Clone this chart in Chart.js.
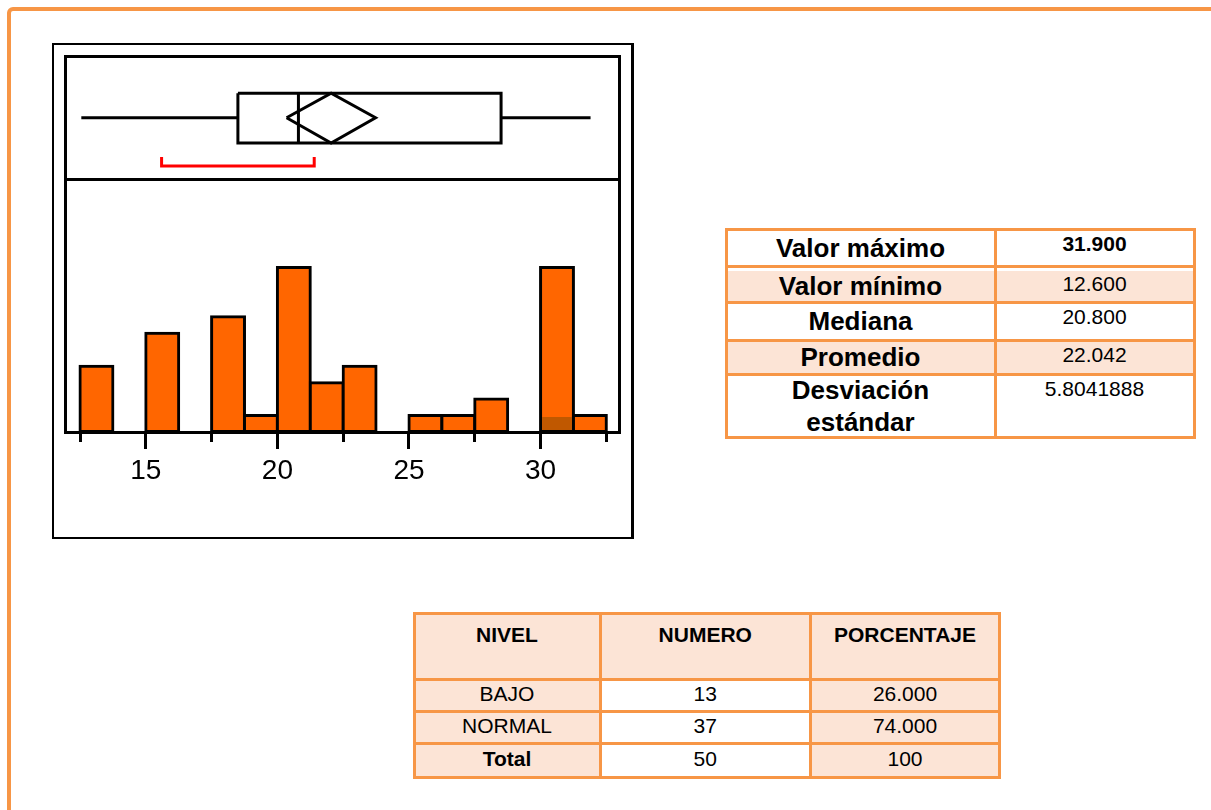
<!DOCTYPE html>
<html>
<head>
<meta charset="utf-8">
<script src="https://cdn.jsdelivr.net/npm/chart.js@4.4.1/dist/chart.umd.min.js"></script>
<style>
html,body{margin:0;padding:0;background:#fff;width:1211px;height:810px;overflow:hidden;font-family:'Liberation Sans',Arial,sans-serif;}
#page{position:absolute;left:7px;top:7px;width:1300px;height:900px;border:4px solid #f79646;border-radius:6px;box-sizing:border-box;}
#frame{position:absolute;left:52px;top:43px;width:582px;height:496px;border:2px solid #000;border-right-width:3px;box-sizing:border-box;}
#chart{position:absolute;left:52px;top:42px;}
.tbl{position:absolute;background:#f79646;}
.cell{position:absolute;box-sizing:border-box;display:flex;justify-content:center;text-align:center;color:#000;white-space:pre-line;}
</style>
</head>
<body>
<div id="page"></div>
<div id="frame"></div>
<canvas id="chart" width="584" height="500"></canvas>
<script>
// ---------- data ----------
const binLow    = [12.5, 13.75, 15, 16.25, 17.5, 18.75, 20, 21.25, 22.5, 23.75, 25, 26.25, 27.5, 28.75, 30, 31.25];
const binHigh   = [13.75, 15, 16.25, 17.5, 18.75, 20, 21.25, 22.5, 23.75, 25, 26.25, 27.5, 28.75, 30, 31.25, 32.5];
const binCounts = [4, 0, 6, 0, 7, 1, 10, 3, 4, 0, 1, 1, 2, 0, 10, 1];
const highlightCounts = [0, 0, 0, 0, 0, 0, 0, 0, 0, 0, 0, 0, 0, 0, 1, 0];
const majorTicks = [15, 20, 25, 30];
const minorTicks = [12.5, 17.5, 22.5, 27.5, 32.5];
// box plot summary: min, Q1, median, Q3, max
const boxFive = [12.55, 18.5, 20.8, 28.5, 31.9];
// mean diamond: low CI, mean, high CI
const meanDiamond = [20.35, 22.042, 23.73];
// shortest half bracket
const shortestHalf = [15.6, 21.4];

const statLabels = ['Valor máximo', 'Valor mínimo', 'Mediana', 'Promedio', 'Desviación\nestándar'];
const statValues = ['31.900', '12.600', '20.800', '22.042', '5.8041888'];
const levelHeaders = ['NIVEL', 'NUMERO', 'PORCENTAJE'];
const levelNames = ['BAJO', 'NORMAL', 'Total'];
const levelCounts = ['13', '37', '50'];
const levelPercents = ['26.000', '74.000', '100'];

// ---------- layout (not data) ----------
const L = {
  xMin: 11.93, xMax: 33.0, yCountMax: 22.83, panelMin: -2.065,
  whiskerY: 0.5, boxTop: 0.70, boxBottom: 0.294, bracketY: 0.106, bracketTip: 0.18
};
const FONT = "'Liberation Sans', Arial, sans-serif";

// ---------- chart ----------
const barData = binLow.map((lo, i) => ({x: (lo + binHigh[i]) / 2, y: binCounts[i] > 0 ? binCounts[i] : null}));
const hlData  = binLow.map((lo, i) => ({x: (lo + binHigh[i]) / 2, y: highlightCounts[i] > 0 ? highlightCounts[i] : null}));

const lineDs = (pts, color) => ({
  type: 'line', data: pts, xAxisID: 'x', yAxisID: 'yb', borderColor: color, borderWidth: 3,
  pointRadius: 0, pointHoverRadius: 0, fill: false, tension: 0, borderJoinStyle: 'miter',
  borderCapStyle: 'butt', order: 0, clip: false
});
const [mn, q1, md, q3, mx] = boxFive;
const [cl, mean, ch] = meanDiamond;
const datasets = [
  {type: 'bar', data: barData, xAxisID: 'x', yAxisID: 'y', backgroundColor: '#ff6600', borderColor: '#000',
   borderWidth: 3, borderSkipped: false, inflateAmount: 1.5, grouped: false, barPercentage: 1, categoryPercentage: 1, order: 2},
  {type: 'bar', data: hlData, xAxisID: 'x', yAxisID: 'y', backgroundColor: '#c05800', borderWidth: 0,
   inflateAmount: -1.5, grouped: false, barPercentage: 1, categoryPercentage: 1, order: 1},
  lineDs([{x: mn, y: L.whiskerY}, {x: q1, y: L.whiskerY}], '#000'),
  lineDs([{x: q3, y: L.whiskerY}, {x: mx, y: L.whiskerY}], '#000'),
  lineDs([{x: q1, y: L.boxTop}, {x: q3, y: L.boxTop}, {x: q3, y: L.boxBottom}, {x: q1, y: L.boxBottom}, {x: q1, y: L.boxTop}], '#000'),
  lineDs([{x: md, y: L.boxTop}, {x: md, y: L.boxBottom}], '#000'),
  lineDs([{x: cl, y: L.whiskerY}, {x: mean, y: L.boxTop}, {x: ch, y: L.whiskerY}, {x: mean, y: L.boxBottom}, {x: cl, y: L.whiskerY}], '#000'),
  lineDs([{x: shortestHalf[0], y: L.bracketTip}, {x: shortestHalf[0], y: L.bracketY}, {x: shortestHalf[1], y: L.bracketY}, {x: shortestHalf[1], y: L.bracketTip}], '#ff0000')
];

new Chart(document.getElementById('chart'), {
  type: 'bar',
  data: {datasets},
  options: {
    responsive: false, animation: false, events: [],
    layout: {padding: {left: 13, right: 16.5, top: 14.5, bottom: 50}},
    plugins: {legend: {display: false}, tooltip: {enabled: false}},
    scales: {
      x: {
        type: 'linear', position: 'bottom', min: L.xMin, max: L.xMax, offset: false,
        afterBuildTicks: s => { s.ticks = [...minorTicks, ...majorTicks].sort((a, b) => a - b).map(v => ({value: v})); },
        afterFit: s => { s.height = 60; },
        ticks: {autoSkip: false, maxRotation: 0, minRotation: 0, padding: 5, color: '#000',
          font: {family: FONT, size: 28}, callback: v => majorTicks.includes(v) ? String(v) : ''},
        grid: {display: true, offset: false, drawOnChartArea: false, drawTicks: true, tickLength: 17, tickWidth: 3,
          tickColor: '#000', tickBorderDash: c => (c.tick && minorTicks.includes(c.tick.value)) ? [8, 60] : []},
        border: {display: true, color: '#000', width: 3}
      },
      xTop: {
        type: 'linear', position: 'top', min: 0, max: 1,
        ticks: {display: false}, grid: {drawOnChartArea: false, drawTicks: false},
        border: {display: true, color: '#000', width: 3}, afterFit: s => { s.height = 0; }
      },
      y: {
        type: 'linear', position: 'left', min: 0, max: L.yCountMax,
        ticks: {display: false}, grid: {drawOnChartArea: false, drawTicks: false},
        border: {display: true, color: '#000', width: 3}, afterFit: s => { s.width = 0; }
      },
      yb: {
        type: 'linear', position: 'right', min: L.panelMin, max: 1,
        afterBuildTicks: s => { s.ticks = [{value: 0}]; },
        ticks: {display: false}, grid: {drawOnChartArea: true, drawTicks: false, color: '#000', lineWidth: 3},
        border: {display: true, color: '#000', width: 3}, afterFit: s => { s.width = 0; }
      }
    }
  }
});

// ---------- tables ----------
const PEACH = '#fce4d6';
function buildGrid(xs, ys, cellFn) {
  const h = 1.5;
  const t = document.createElement('div');
  t.className = 'tbl';
  const ox = xs[0] - h, oy = ys[0] - h;
  t.style.left = ox + 'px'; t.style.top = oy + 'px';
  t.style.width = (xs[xs.length - 1] - xs[0] + 2 * h) + 'px';
  t.style.height = (ys[ys.length - 1] - ys[0] + 2 * h) + 'px';
  for (let r = 0; r < ys.length - 1; r++) {
    for (let c = 0; c < xs.length - 1; c++) {
      const d = document.createElement('div');
      d.className = 'cell';
      d.style.left = (xs[c] + h - ox) + 'px';
      d.style.top = (ys[r] + h - oy) + 'px';
      d.style.width = (xs[c + 1] - xs[c] - 2 * h) + 'px';
      d.style.height = (ys[r + 1] - ys[r] - 2 * h) + 'px';
      cellFn(d, r, c);
      t.appendChild(d);
    }
  }
  document.body.appendChild(t);
}

buildGrid([726, 995, 1194], [229.5, 266, 302, 340.5, 374, 437.5], (d, r, c) => {
  d.style.background = (r % 2 === 1) ? PEACH : '#fff';
  if (r === 1) d.style.boxShadow = 'inset 0 3px 0 #fff';
  if (c === 0) {
    d.textContent = statLabels[r];
    d.style.font = 'bold 26px ' + FONT;
    d.style.lineHeight = '32px';
    d.style.alignItems = 'center';
    if (r === 1) d.style.paddingTop = '3px';
  } else {
    d.textContent = statValues[r];
    d.style.font = (r === 0 ? 'bold ' : '') + '21px ' + FONT;
    d.style.lineHeight = '24px';
    d.style.alignItems = 'flex-start';
    d.style.paddingTop = (r === 1 ? 4 : 1) + 'px';
  }
});

buildGrid([414, 600, 810.5, 999.5], [613.5, 679, 711, 743, 777.5], (d, r, c) => {
  if (r === 0) {
    d.style.background = PEACH;
    d.textContent = levelHeaders[c];
    d.style.font = 'bold 21px ' + FONT;
    d.style.lineHeight = '24px';
    d.style.alignItems = 'flex-start';
    d.style.paddingTop = '8px';
  } else {
    d.style.background = (c === 1) ? '#fff' : PEACH;
    const txt = c === 0 ? levelNames[r - 1] : (c === 1 ? levelCounts[r - 1] : levelPercents[r - 1]);
    d.textContent = txt;
    d.style.font = ((r === 3 && c === 0) ? 'bold ' : '') + '21px ' + FONT;
    d.style.lineHeight = '24px';
    d.style.alignItems = 'center';
    d.style.paddingBottom = '3px';
  }
});
</script>
</body>
</html>
